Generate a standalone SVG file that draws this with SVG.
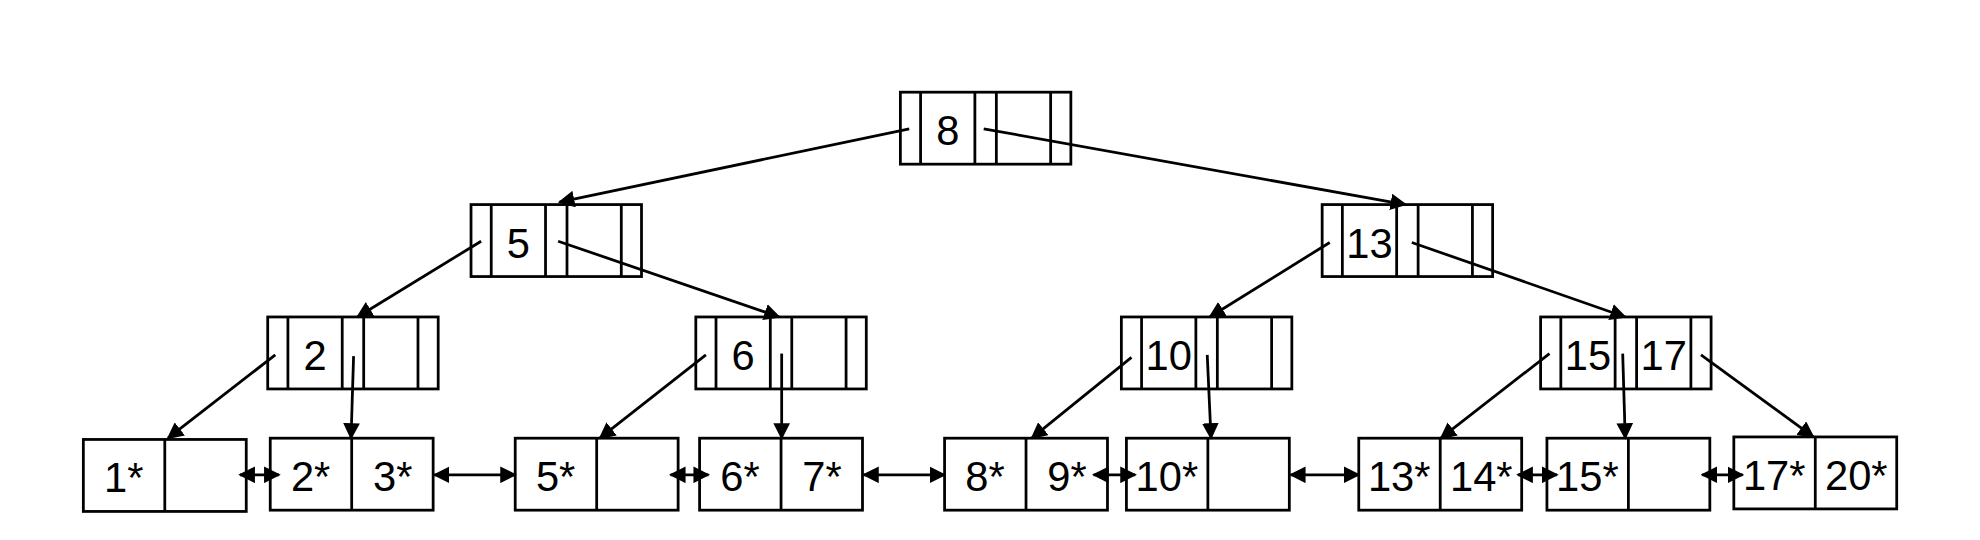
<svg xmlns="http://www.w3.org/2000/svg" width="1980" height="540" viewBox="0 0 1980 540">
<style>
rect,line.d{fill:none;stroke:#000;stroke-width:2.2}
text{font-family:"Liberation Sans",Arial,sans-serif;font-size:33px;text-anchor:middle;fill:#000}
.c line{stroke:#000;stroke-width:2.2}
</style>
<defs>
<marker id="a" viewBox="0 0 10 10" refX="9" refY="5" markerWidth="6" markerHeight="6" orient="auto-start-reverse"><path d="M0,0L10,5L0,10z" fill="#000"/></marker>
<g id="in"><rect x="0" y="0" width="135" height="57"/><line class="d" x1="16" y1="0" x2="16" y2="57"/><line class="d" x1="59" y1="0" x2="59" y2="57"/><line class="d" x1="76" y1="0" x2="76" y2="57"/><line class="d" x1="119" y1="0" x2="119" y2="57"/></g>
<g id="lf"><rect x="0" y="0" width="129" height="57"/><line class="d" x1="64.5" y1="0" x2="64.5" y2="57"/></g>
</defs>
<rect x="0" y="0" width="1980" height="540" style="fill:#fff;stroke:none"/>
<g transform="scale(1.2628)">
<g id="n8" transform="translate(713,73)"><use href="#in"/><text x="37.5" y="42">8</text></g>
<g id="n5" transform="translate(373,162)"><use href="#in"/><text x="37.5" y="42">5</text></g>
<g id="n13" transform="translate(1047,162)"><use href="#in"/><text x="37.5" y="42">13</text></g>
<g id="n2" transform="translate(212,251)"><use href="#in"/><text x="37.5" y="42">2</text></g>
<g id="n6" transform="translate(551,251)"><use href="#in"/><text x="37.5" y="42">6</text></g>
<g id="n10" transform="translate(888,251)"><use href="#in"/><text x="37.5" y="42">10</text></g>
<g id="n1517" transform="translate(1220,251)"><use href="#in"/><text x="37.5" y="42">15</text><text x="97.5" y="42">17</text></g>
<g id="l1" transform="translate(66,348)"><use href="#lf"/><text x="32" y="42">1*</text></g>
<g id="l2" transform="translate(214,347)"><use href="#lf"/><text x="32" y="42">2*</text><text x="97" y="42">3*</text></g>
<g id="l5" transform="translate(408,347)"><use href="#lf"/><text x="32" y="42">5*</text></g>
<g id="l6" transform="translate(554,347)"><use href="#lf"/><text x="32" y="42">6*</text><text x="97" y="42">7*</text></g>
<g id="l8" transform="translate(748,347)"><use href="#lf"/><text x="32" y="42">8*</text><text x="97" y="42">9*</text></g>
<g id="l10" transform="translate(892,347)"><use href="#lf"/><text x="32" y="42">10*</text></g>
<g id="l13" transform="translate(1076,347)"><use href="#lf"/><text x="32" y="42">13*</text><text x="97" y="42">14*</text></g>
<g id="l15" transform="translate(1225,347)"><use href="#lf"/><text x="32" y="42">15*</text></g>
<g id="l17" transform="translate(1373,346)"><use href="#lf"/><text x="32" y="42">17*</text><text x="97" y="42">20*</text></g>
<g id="connectors" class="c">
<line x1="720" y1="102" x2="443" y2="160" marker-end="url(#a)"/>
<line x1="779" y1="102" x2="1113" y2="162" marker-end="url(#a)"/>
<line x1="381" y1="191" x2="283" y2="251" marker-end="url(#a)"/>
<line x1="442" y1="191" x2="617" y2="251" marker-end="url(#a)"/>
<line x1="1053" y1="192" x2="958" y2="251" marker-end="url(#a)"/>
<line x1="1118" y1="192" x2="1287" y2="251" marker-end="url(#a)"/>
<line x1="218" y1="281" x2="133" y2="347" marker-end="url(#a)"/>
<line x1="280" y1="282" x2="278" y2="347" marker-end="url(#a)"/>
<line x1="559" y1="281" x2="475" y2="347" marker-end="url(#a)"/>
<line x1="619" y1="280" x2="619" y2="347" marker-end="url(#a)"/>
<line x1="896" y1="283" x2="817" y2="347" marker-end="url(#a)"/>
<line x1="956" y1="281" x2="959" y2="347" marker-end="url(#a)"/>
<line x1="1227" y1="280" x2="1141" y2="347" marker-end="url(#a)"/>
<line x1="1285" y1="280" x2="1287" y2="347" marker-end="url(#a)"/>
<line x1="1347" y1="281" x2="1436" y2="346" marker-end="url(#a)"/>
<line x1="190" y1="376" x2="221" y2="376" marker-start="url(#a)" marker-end="url(#a)"/>
<line x1="344" y1="376" x2="408" y2="376" marker-start="url(#a)" marker-end="url(#a)"/>
<line x1="531" y1="376" x2="561" y2="376" marker-start="url(#a)" marker-end="url(#a)"/>
<line x1="684" y1="376" x2="748" y2="376" marker-start="url(#a)" marker-end="url(#a)"/>
<line x1="866" y1="376" x2="899" y2="376" marker-start="url(#a)" marker-end="url(#a)"/>
<line x1="1022" y1="376" x2="1076" y2="376" marker-start="url(#a)" marker-end="url(#a)"/>
<line x1="1202" y1="376" x2="1233" y2="376" marker-start="url(#a)" marker-end="url(#a)"/>
<line x1="1348" y1="376" x2="1380" y2="376" marker-start="url(#a)" marker-end="url(#a)"/>
</g>
</g>
</svg>
